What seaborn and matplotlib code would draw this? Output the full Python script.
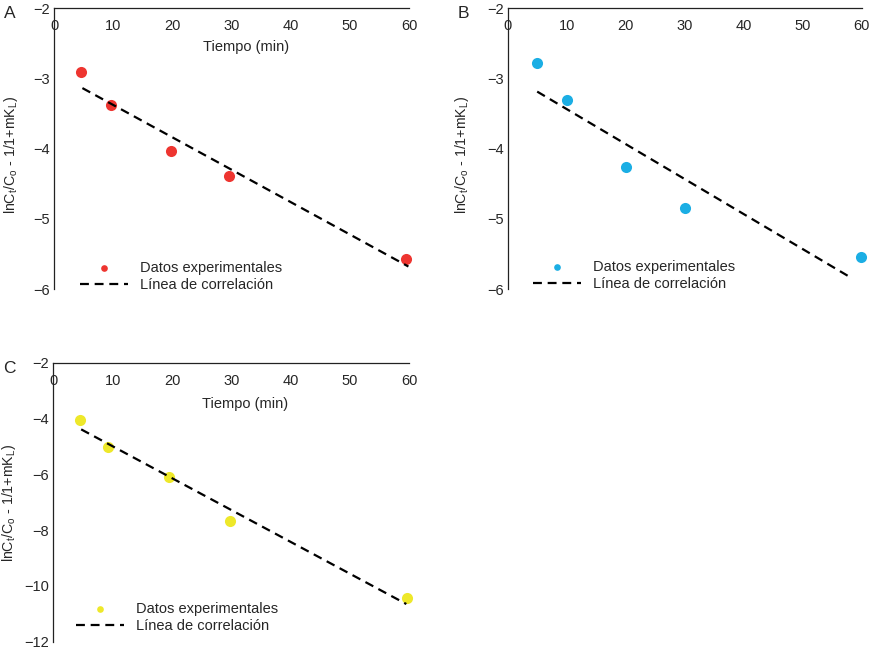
import matplotlib
matplotlib.use("Agg")
import matplotlib.pyplot as plt
import seaborn as sns

# datos (tiempo en min, lnCt/Co - 1/1+mKL)
tiempo_a = [4.6, 9.6, 19.8, 29.6, 59.5]
valores_a = [-2.91, -3.38, -4.03, -4.39, -5.57]
ajuste_x_a = [4.8, 59.9]
ajuste_y_a = [-3.14, -5.68]

tiempo_b = [5.0, 10.0, 20.0, 30.0, 59.9]
valores_b = [-2.79, -3.31, -4.27, -4.85, -5.54]
ajuste_x_b = [5.0, 58.0]
ajuste_y_b = [-3.19, -5.83]

tiempo_c = [4.5, 9.3, 19.5, 29.7, 59.6]
valores_c = [-4.07, -5.01, -6.10, -7.68, -10.42]
ajuste_x_c = [4.7, 59.5]
ajuste_y_c = [-4.39, -10.65]

x_ticks = [0, 10, 20, 30, 40, 50, 60]
y_ticks_ab = [-2, -3, -4, -5, -6]
y_ticks_c = [-2, -4, -6, -8, -10, -12]

ylabel = r"lnC$_\mathrm{t}$/C$_\mathrm{o}$ - 1/1+mK$_\mathrm{L}$)"

sns.set_style("white")
plt.rcParams["font.family"] = ["Liberation Sans", "DejaVu Sans"]
plt.rcParams["mathtext.fontset"] = "custom"
plt.rcParams["mathtext.rm"] = "Liberation Sans"
plt.rcParams["font.size"] = 10.5

W, H = 871, 649
fig = plt.figure(figsize=(W / 100, H / 100), dpi=100)


def panel(rect, tx, ty, fx, fy, color, yticks, letter, show_xlabel, ylab_pos, xlab_pos, leg_pos):
    left, top, right, bottom = rect
    ax = fig.add_axes([left / W, 1 - bottom / H, (right - left) / W, (bottom - top) / H])
    sns.scatterplot(x=tx, y=ty, ax=ax, color=color, s=64, linewidth=0,
                    label="Datos experimentales", zorder=2, clip_on=False)
    sns.lineplot(x=fx, y=fy, ax=ax, color="black", linewidth=1.6,
                 linestyle=(0, (4, 2.6)), label="Línea de correlación", zorder=3)
    ax.set_xlim(0, 60)
    ax.set_ylim(yticks[-1], yticks[0])
    ax.set_xticks(x_ticks)
    ax.set_yticks(yticks)
    for s in ["top", "right"]:
        ax.spines[s].set_visible(False)
    # eje x dibujado arriba, en y = -2, con las etiquetas por debajo
    ax.spines["bottom"].set_position(("data", yticks[0]))
    for s in ["bottom", "left"]:
        ax.spines[s].set_color("#222222")
        ax.spines[s].set_linewidth(0.9)
    ax.tick_params(axis="both", direction="in", length=3, width=0.8,
                   color="#222222", labelsize=10.5)
    ax.tick_params(axis="x", pad=8)
    ax.tick_params(axis="y", pad=3)
    if show_xlabel:
        ax.set_xlabel("Tiempo (min)", fontsize=10.5)
        ax.xaxis.set_label_coords(*xlab_pos)
    else:
        ax.set_xlabel("")
    ax.set_ylabel(ylabel, fontsize=10.2)
    ax.yaxis.set_label_coords(*ylab_pos)
    ax.legend(loc="upper left", bbox_to_anchor=leg_pos, frameon=False, fontsize=10.5,
              markerscale=0.6, handlelength=3.3, handletextpad=0.8,
              labelspacing=0.2, borderpad=0, borderaxespad=0)
    fig.text(left / W - 0.058, 1 - (top + 10) / H, letter, fontsize=12.5, va="baseline")
    return ax


panel((54, 8, 409, 289), tiempo_a, valores_a, ajuste_x_a, ajuste_y_a, "#EE3530",
      y_ticks_ab, "A", True, (-0.096, 0.477), (0.54, 0.885), (0.073, 0.10))
panel((507.7, 8, 861.7, 289), tiempo_b, valores_b, ajuste_x_b, ajuste_y_b, "#1BAEE4",
      y_ticks_ab, "B", False, (-0.104, 0.477), (0.54, 0.885), (0.071, 0.103))
panel((53.3, 362.7, 409.3, 641.7), tiempo_c, valores_c, ajuste_x_c, ajuste_y_c, "#EEE82A",
      y_ticks_c, "C", True, (-0.100, 0.497), (0.538, 0.876), (0.064, 0.142))

fig.savefig("out.png", dpi=100)
